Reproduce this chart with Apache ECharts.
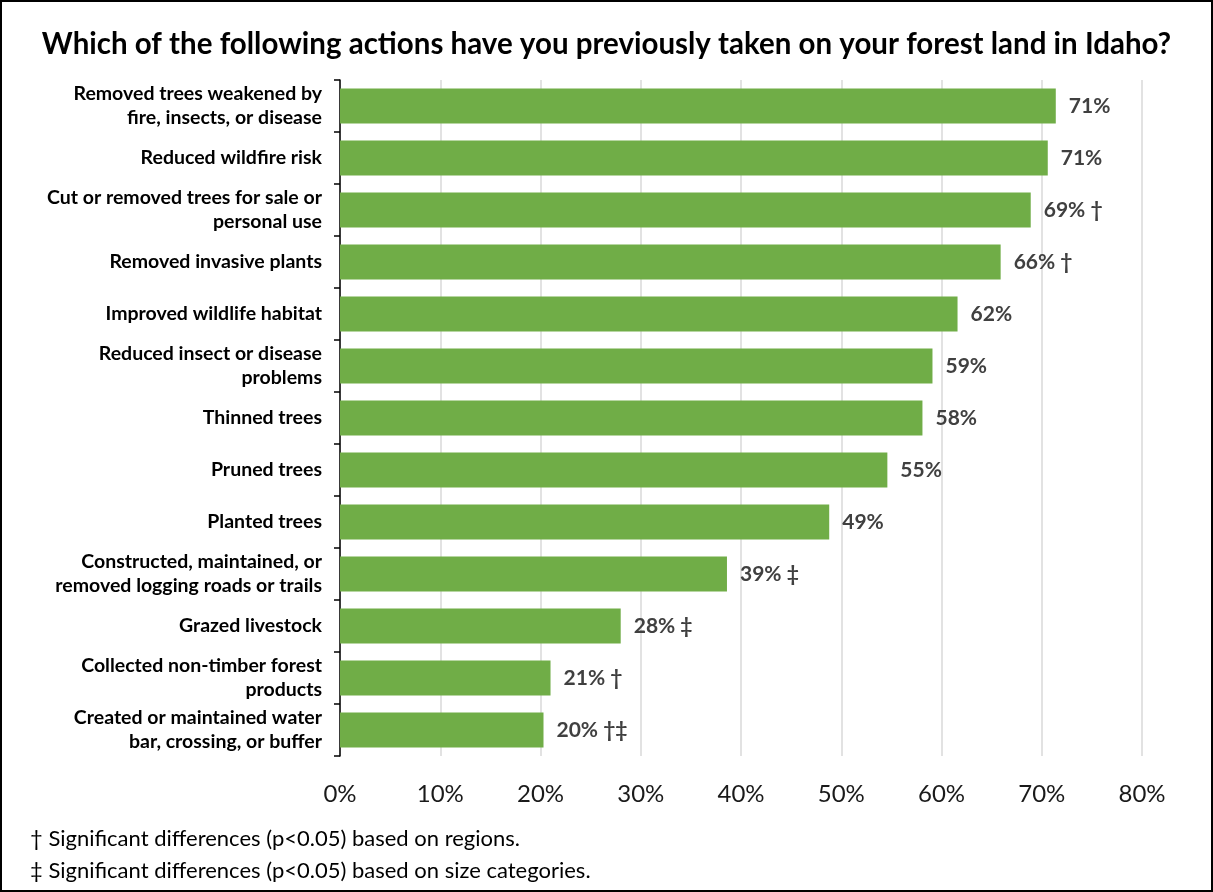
<!DOCTYPE html>
<html>
<head>
<meta charset="utf-8">
<script src="https://cdn.jsdelivr.net/npm/echarts@6/dist/echarts.min.js"></script>
<style>
  html, body { margin: 0; padding: 0; background: #fff; }
  #chart { width: 1213px; height: 892px; box-sizing: border-box; border: 2px solid #000; }
</style>
</head>
<body>
<div id="chart"></div>
<script>
// Actions taken on forest land (share of respondents, %)
const categories = [
  'Removed trees weakened by\nfire, insects, or disease',
  'Reduced wildfire risk',
  'Cut or removed trees for sale or\npersonal use',
  'Removed invasive plants',
  'Improved wildlife habitat',
  'Reduced insect or disease\nproblems',
  'Thinned trees',
  'Pruned trees',
  'Planted trees',
  'Constructed, maintained, or\nremoved logging roads or trails',
  'Grazed livestock',
  'Collected non-timber forest\nproducts',
  'Created or maintained water\nbar, crossing, or buffer'
];
const values = [71.4, 70.6, 68.9, 65.9, 61.6, 59.1, 58.1, 54.6, 48.8, 38.6, 28.0, 21.0, 20.3];
// significance markers shown after each value
const markers = ['', '', '†', '†', '', '', '', '', '', '‡', '‡', '†', '†‡'];
const xTicks = [0, 10, 20, 30, 40, 50, 60, 70, 80];

const FONT = 'Lato, "Open Sans", sans-serif';

const chart = echarts.init(document.getElementById('chart'));
chart.setOption({
  animation: false,
  title: {
    text: 'Which of the following actions have you previously taken on your forest land in Idaho?',
    left: 'center',
    top: 22,
    textStyle: { fontFamily: FONT, fontWeight: 'bold', fontSize: 29.5, color: '#000' }
  },
  grid: { left: 338, right: 69, top: 78, bottom: 134, containLabel: false },
  xAxis: {
    type: 'value',
    min: xTicks[0],
    max: xTicks[xTicks.length - 1],
    interval: 10,
    axisLine: { show: false },
    axisTick: { show: false },
    splitLine: { show: true, lineStyle: { color: '#d9d9d9', width: 1.5 } },
    axisLabel: {
      margin: 26,
      fontFamily: FONT,
      fontSize: 24,
      color: '#1a1a1a',
      formatter: v => v + '%'
    }
  },
  yAxis: {
    type: 'category',
    inverse: true,
    data: categories,
    axisLine: { show: true, lineStyle: { color: '#000', width: 1.5 } },
    axisTick: { show: true, length: 6, lineStyle: { color: '#000', width: 1.5 } },
    axisLabel: {
      margin: 18,
      fontFamily: FONT,
      fontWeight: 'bold',
      fontSize: 19.5,
      lineHeight: 24,
      color: '#000',
      align: 'right'
    }
  },
  series: [{
    type: 'bar',
    data: values,
    barCategoryGap: '33%',
    itemStyle: { color: '#70ad47' },
    label: {
      show: true,
      position: 'right',
      distance: 13,
      fontFamily: FONT,
      fontWeight: 'bold',
      fontSize: 21,
      color: '#404040',
      formatter: p => Math.round(p.value) + '%' + (markers[p.dataIndex] ? ' ' + markers[p.dataIndex] : '')
    }
  }],
  graphic: [
    {
      type: 'text', left: 28, top: 826,
      style: { text: '† Significant differences (p<0.05) based on regions.', font: '22px ' + FONT, fill: '#000' }
    },
    {
      type: 'text', left: 28, top: 858,
      style: { text: '‡ Significant differences (p<0.05) based on size categories.', font: '22px ' + FONT, fill: '#000' }
    }
  ]
});
</script>
</body>
</html>
